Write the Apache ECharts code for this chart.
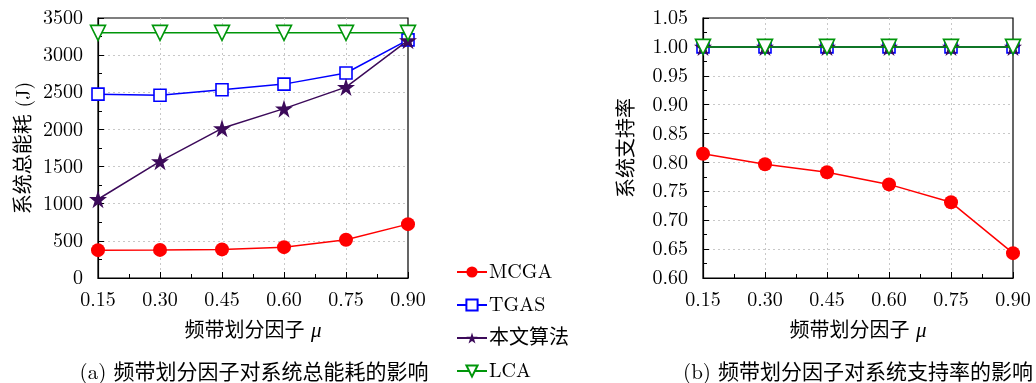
<!DOCTYPE html>
<html><head><meta charset="utf-8">
<script src="https://cdn.jsdelivr.net/npm/echarts@6/dist/echarts.min.js"></script>
<style>html,body{margin:0;padding:0;background:#fff}#c{width:1036px;height:383px}</style>
</head><body><div id="c"></div>
<script>
const xValues = [0.15, 0.30, 0.45, 0.60, 0.75, 0.90];
const energyMCGA = [375, 378, 385, 415, 515, 725];
const energyTGAS = [2475, 2460, 2535, 2610, 2760, 3205];
const energyOurs = [1060, 1570, 2015, 2280, 2570, 3200];
const energyLCA  = [3300, 3300, 3300, 3300, 3300, 3300];
const supportMCGA = [0.815, 0.797, 0.783, 0.762, 0.731, 0.643];
const supportTGAS = [1.0, 1.0, 1.0, 1.0, 1.0, 1.0];
const supportOurs = [1.0, 1.0, 1.0, 1.0, 1.0, 1.0];
const supportLCA  = [1.0, 1.0, 1.0, 1.0, 1.0, 1.0];
const seriesNames = ['MCGA', 'TGAS', '本文算法', 'LCA'];
const captions = ['(a) 频带划分因子对系统总能耗的影响', '(b) 频带划分因子对系统支持率的影响'];

const FONT = "'Latin Modern Roman','Liberation Serif','Noto Sans CJK SC',serif";
const STAR = 'path://M50,0 L61.2,34.5 L97.6,34.5 L68.2,55.9 L79.4,90.5 L50,69.1 L20.6,90.5 L31.8,55.9 L2.4,34.5 L38.8,34.5 Z';
const styles = [
  {color:'#ff0000', symbol:'circle', size:14, fill:'#ff0000'},
  {color:'#0000ff', symbol:'rect', size:12, fill:'#ffffff'},
  {color:'#3c0a5a', symbol:STAR, size:18, fill:'#3c0a5a'},
  {color:'#00960a', symbol:'triangle', size:15, fill:'#ffffff', rotate:180}
];
function pairs(ys){ return xValues.map((x,i)=>[x, ys[i]]); }
function mk(idx, ys, g){
  const s = styles[idx];
  return {
    name: seriesNames[idx], type:'line', xAxisIndex:g, yAxisIndex:g,
    data: pairs(ys), symbol: s.symbol, symbolSize: s.size, symbolRotate: s.rotate||0,
    showAllSymbol:true,
    lineStyle:{color:s.color, width:1.5},
    itemStyle:{color:s.fill, borderColor:s.color, borderWidth: s.fill==='#ffffff'?1.6:0},
    emphasis:{disabled:true}, animation:false, z: 2+idx
  };
}
const gridLine = {show:true, showMinLine:false, showMaxLine:false, lineStyle:{color:'#c8c8c8', type:[2,3], width:1}};
function xAx(g){
  return {type:'value', gridIndex:g, min:0.15, max:0.90, interval:0.15,
    name:'{a|频带划分因子 }{b|μ}', nameLocation:'middle', nameGap:42,
    nameTextStyle:{rich:{a:{fontFamily:FONT, fontSize:20, color:'#000'}, b:{fontFamily:FONT, fontSize:21, fontStyle:'italic', color:'#000'}}},
    axisLine:{show:true, lineStyle:{color:'#000', width:1.2}},
    axisTick:{show:true, inside:true, length:6, lineStyle:{color:'#000'}},
    minorTick:{show:true, splitNumber:2, length:4, lineStyle:{color:'#000'}},
    axisLabel:{color:'#000', fontFamily:FONT, fontSize:20, margin:12, formatter:v=>v.toFixed(2)},
    splitLine:gridLine};
}
const legends = seriesNames.map((n,i)=>({
  orient:'vertical', left:456, top:262 + i*33, padding:0, itemWidth:30, itemHeight:14,
  data:[n], selectedMode:false,
  textStyle:{fontFamily:FONT, fontSize:20, color:'#000', padding:[0,0,0,-3]}
}));
const opt = {
  backgroundColor:'#fff',
  grid:[
    {left:98, right:628, top:18, bottom:105, show:true, borderColor:'#000', borderWidth:1.2, backgroundColor:'transparent'},
    {left:703, right:23, top:18, bottom:105, show:true, borderColor:'#000', borderWidth:1.2, backgroundColor:'transparent'}
  ],
  xAxis:[xAx(0), xAx(1)],
  yAxis:[
    {type:'value', gridIndex:0, min:0, max:3500, interval:500,
     name:'系统总能耗 (J)', nameLocation:'middle', nameGap:64, nameRotate:90,
     nameTextStyle:{fontFamily:FONT, fontSize:20, color:'#000'},
     axisLine:{show:true, lineStyle:{color:'#000', width:1.2}},
     axisTick:{show:true, inside:true, length:6, lineStyle:{color:'#000'}},
     minorTick:{show:true, splitNumber:2, length:4, lineStyle:{color:'#000'}},
     axisLabel:{color:'#000', fontFamily:FONT, fontSize:20, margin:15, formatter:v=>String(v)},
     splitLine:gridLine},
    {type:'value', gridIndex:1, min:0.60, max:1.05, interval:0.05,
     name:'系统支持率', nameLocation:'middle', nameGap:66, nameRotate:90,
     nameTextStyle:{fontFamily:FONT, fontSize:20, color:'#000'},
     axisLine:{show:true, lineStyle:{color:'#000', width:1.2}},
     axisTick:{show:true, inside:true, length:6, lineStyle:{color:'#000'}},
     minorTick:{show:true, splitNumber:2, length:4, lineStyle:{color:'#000'}},
     axisLabel:{color:'#000', fontFamily:FONT, fontSize:20, margin:15, formatter:v=>v.toFixed(2)},
     splitLine:gridLine}
  ],
  legend:legends,
  title:[
    {text:captions[0], left:254, top:362, textAlign:'center', textStyle:{fontFamily:FONT, fontSize:21, fontWeight:'normal', color:'#000'}, padding:0},
    {text:captions[1], left:858, top:362, textAlign:'center', textStyle:{fontFamily:FONT, fontSize:21, fontWeight:'normal', color:'#000'}, padding:0}
  ],
  series:[
    mk(0, energyMCGA, 0), mk(1, energyTGAS, 0), mk(2, energyOurs, 0), mk(3, energyLCA, 0),
    mk(0, supportMCGA, 1), mk(1, supportTGAS, 1), mk(2, supportOurs, 1), mk(3, supportLCA, 1)
  ]
};
const chart = echarts.init(document.getElementById('c'), null, {renderer:'canvas'});
chart.setOption(opt);
</script></body></html>
